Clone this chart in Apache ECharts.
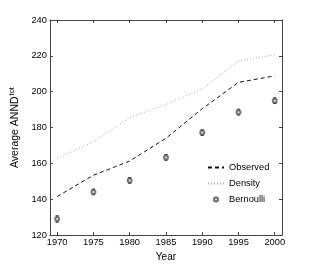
<!DOCTYPE html>
<html><head><meta charset="utf-8">
<script src="https://cdn.jsdelivr.net/npm/echarts@6/dist/echarts.min.js"></script>
<style>html,body{margin:0;padding:0;background:#fff}#c{width:311px;height:267px}</style>
</head><body><div id="c"></div>
<script>
const years = [1970, 1975, 1980, 1985, 1990, 1995, 2000];
const observed = [141.5, 153.4, 161.3, 174, 190.5, 205.2, 208.8];
const density = [162.6, 172.1, 185.5, 193, 201.5, 217.1, 220.7];
const bernoulli = [129, 144.1, 150.5, 163.3, 177.2, 188.6, 195];
const bernoulliErr = [1.8, 1.6, 1.6, 1.6, 1.6, 1.6, 1.6];
const xTicks = [1970, 1975, 1980, 1985, 1990, 1995, 2000];
const yTicks = [120, 140, 160, 180, 200, 220, 240];

const font = 'Liberation Sans, Arial, Helvetica, sans-serif';
const axisCol = '#444';
const fs = 9.3;
const chart = echarts.init(document.getElementById('c'), null, {renderer: 'canvas'});
const pair = arr => years.map((y, i) => [y, arr[i]]);
const baseX = {
  type: 'value', min: 1969, max: 2001,
  axisLine: {lineStyle: {color: axisCol, width: 1}},
  axisTick: {inside: true, length: 3, customValues: xTicks, lineStyle: {color: axisCol}},
  splitLine: {show: false}
};
const baseY = {
  type: 'value', min: 120, max: 240, interval: 20,
  axisLine: {show: true, lineStyle: {color: axisCol, width: 1}},
  axisTick: {show: true, inside: true, length: 3, customValues: yTicks, lineStyle: {color: axisCol}},
  splitLine: {show: false}
};
chart.setOption({
  animation: false,
  grid: {left: 40, top: 20, right: 29, bottom: 29, containLabel: false},
  xAxis: [
    Object.assign({}, baseX, {position: 'bottom',
      axisLabel: {customValues: xTicks, formatter: v => String(v), color: '#000', fontSize: fs, fontFamily: font, margin: 3},
      name: 'Year', nameLocation: 'middle', nameGap: 14,
      nameTextStyle: {color: '#000', fontSize: 10, fontFamily: font}}),
    Object.assign({}, baseX, {position: 'top', axisLabel: {show: false}})
  ],
  yAxis: [
    Object.assign({}, baseY, {position: 'left',
      axisLabel: {customValues: yTicks, formatter: v => String(v), color: '#000', fontSize: fs, fontFamily: font, margin: 3},
      name: 'Average ANND{sup|tot}', nameLocation: 'middle', nameGap: 24,
      nameTextStyle: {color: '#000', fontSize: 10.5, fontFamily: font, verticalAlign: 'bottom',
        rich: {sup: {fontSize: 7.5, fontFamily: font, color: '#000', verticalAlign: 'bottom', padding: [0, 0, 6, 1]}}}}),
    Object.assign({}, baseY, {position: 'right', axisLabel: {show: false}})
  ],
  legend: {
    orient: 'vertical', left: 202, top: 158, itemGap: 7, itemWidth: 16, itemHeight: 4,
    textStyle: {color: '#000', fontSize: fs, fontFamily: font},
    data: [
      {name: 'Observed', itemStyle: {opacity: 0}},
      {name: 'Density', itemStyle: {opacity: 0}},
      {name: 'Bernoulli', icon: 'emptyCircle', itemStyle: {color: '#666', borderColor: '#666', borderWidth: 1, opacity: 1}}
    ]
  },
  series: [
    {name: 'Observed', type: 'line', data: pair(observed), symbol: 'none',
     lineStyle: {color: '#111', width: 1, type: [4, 3]}, itemStyle: {color: '#111'}},
    {name: 'Density', type: 'line', data: pair(density), symbol: 'none',
     lineStyle: {color: '#aaa', width: 1, type: [1, 2]}, itemStyle: {color: '#aaa'}},
    {name: 'Bernoulli', type: 'scatter', data: pair(bernoulli), symbol: 'emptyCircle', symbolSize: 4,
     itemStyle: {color: '#555', borderColor: '#555', borderWidth: 1}, z: 3},
    {name: 'err', type: 'custom', data: years.map((y, i) => [y, bernoulli[i] - bernoulliErr[i], bernoulli[i] + bernoulliErr[i]]),
     renderItem: function (params, api) {
       const lo = api.coord([api.value(0), api.value(1)]);
       const hi = api.coord([api.value(0), api.value(2)]);
       const w = 1.6;
       const st = {stroke: '#333', lineWidth: 1};
       return {type: 'group', children: [
         {type: 'line', shape: {x1: lo[0], y1: lo[1], x2: hi[0], y2: hi[1]}, style: st},
         {type: 'line', shape: {x1: lo[0] - w, y1: lo[1], x2: lo[0] + w, y2: lo[1]}, style: st},
         {type: 'line', shape: {x1: hi[0] - w, y1: hi[1], x2: hi[0] + w, y2: hi[1]}, style: st}
       ]};
     }, z: 1}
  ]
});
</script></body></html>
